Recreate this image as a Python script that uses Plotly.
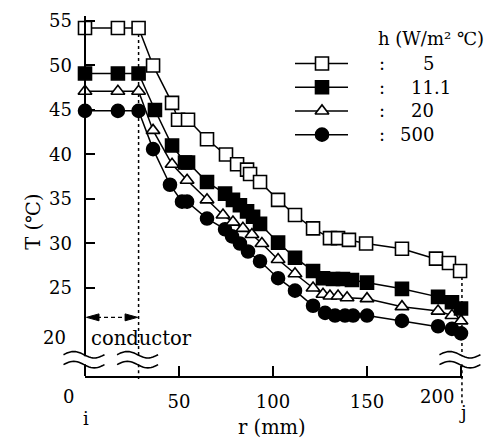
import numpy as np
import plotly.graph_objects as go

# ---------------- data ----------------
h_values = ["5", "11.1", "20", "500"]          # h (W/m2 C)

r_h5 = [0, 17.5, 28.5, 36.2, 46.3, 49.5, 54.8, 64.9, 75.0, 80.9, 86.2, 87.8,
        93.1, 102.7, 111.7, 121.3, 130.3, 134.6, 140.4, 149.5, 168.6, 186.7,
        193.6, 199.5]
T_h5 = [54.2, 54.2, 54.2, 50.0, 45.8, 43.9, 43.9, 41.7, 40.0, 38.9, 38.3, 37.8,
        36.9, 34.9, 33.2, 31.7, 30.6, 30.6, 30.4, 30.0, 29.4, 28.3, 27.8, 26.9]

r_h11 = [0, 17.5, 28.5, 37.2, 46.3, 53.2, 54.8, 64.9, 74.5, 78.7, 82.4, 86.2,
         89.4, 93.1, 102.7, 111.7, 121.3, 126.6, 131.9, 137.2, 142.0, 150.0,
         168.6, 187.8, 195.2, 200.0]
T_h11 = [49.1, 49.1, 49.1, 45.0, 41.0, 39.1, 39.1, 36.9, 35.6, 34.9, 34.3, 33.6,
         33.0, 32.2, 30.1, 28.4, 26.9, 26.1, 26.0, 26.0, 25.9, 25.6, 24.9, 24.0,
         23.4, 22.7]

r_h20 = [0, 17.5, 28.5, 36.2, 46.3, 54.3, 64.9, 73.4, 78.7, 84.0, 88.8, 94.1,
         102.7, 111.7, 121.3, 126.6, 130.3, 134.6, 139.4, 150.0, 168.6, 187.8,
         195.2, 200.0]
T_h20 = [47.1, 47.1, 47.1, 42.7, 38.9, 37.1, 34.9, 33.2, 32.4, 31.7, 31.0, 30.0,
         28.2, 26.6, 25.0, 24.3, 24.1, 24.1, 23.9, 23.8, 22.9, 22.4, 21.9, 21.3]

r_h500 = [0, 17.5, 28.5, 36.2, 45.2, 51.6, 54.3, 64.9, 74.5, 78.2, 82.4, 86.7,
          93.1, 102.7, 111.7, 121.3, 127.7, 133.0, 138.3, 142.6, 150.0, 168.6,
          187.8, 195.2, 200.0]
T_h500 = [44.9, 44.9, 44.9, 40.6, 36.6, 34.7, 34.7, 32.8, 31.6, 30.8, 30.0, 29.1,
          28.0, 26.1, 24.7, 23.0, 22.2, 21.9, 21.9, 21.9, 21.9, 21.3, 20.7, 20.4,
          19.9]

x_ticks = [50, 100, 150, 200]
y_ticks = [25, 30, 35, 40, 45, 50, 55]
r_conductor = 28.5      # conductor radius (i -> conductor edge)
r_j = 200.5             # position j

# ---------------- layout constants ----------------
# The page body has an 8px margin, so the figure is sized/offset to compensate.
OFF = 8
SW, SH = 499, 441                      # screen size
W, H = SW - OFF, SH - OFF              # figure size
PL, PR, PT, PB = 85, 463, 10, 376      # plot box in screen pixels
ML, MR, MT, MB = PL - OFF, SW - PR, PT - OFF, OFF + H - PB
PW, PH = PR - PL, PB - PT
X_RANGE = [0, 201.06]
Y_RANGE = [15.11, 55.78]
FONT = "DejaVu Serif"
FS = 18
FS_TXT = 19.5


def xpx(r):
    return PL + (r - X_RANGE[0]) / (X_RANGE[1] - X_RANGE[0]) * PW


def ypx(t):
    return PT + (Y_RANGE[1] - t) / (Y_RANGE[1] - Y_RANGE[0]) * PH


def xp(p):
    return (p - PL) / PW


def yp(p):
    return (PB - p) / PH


series = [
    dict(name=h_values[0], r=r_h5, T=T_h5, symbol="square", fill="white", size=13),
    dict(name=h_values[1], r=r_h11, T=T_h11, symbol="square", fill="black", size=13),
    dict(name=h_values[2], r=r_h20, T=T_h20, symbol="triangle-up", fill="white", size=12),
    dict(name=h_values[3], r=r_h500, T=T_h500, symbol="circle", fill="black", size=13),
]

fig = go.Figure()

for s in reversed(series):
    fig.add_trace(go.Scatter(
        x=s["r"], y=s["T"], mode="lines+markers", name=s["name"],
        line=dict(color="black", width=1.5),
        marker=dict(symbol=s["symbol"], size=s["size"], color=s["fill"],
                    line=dict(color="black", width=1.6)),
        showlegend=False, cliponaxis=False))

# ---- legend drawn on an overlay axis measured in screen pixels ----
LEG_X0, LEG_XM, LEG_X1 = 295, 322, 348
LEG_Y = [60, 84, 108, 132]
COLON_X, VAL_X = 382, 436
for s, ly in zip(series, LEG_Y):
    fig.add_trace(go.Scatter(x=[LEG_X0, LEG_X1], y=[ly, ly], mode="lines",
                             line=dict(color="black", width=1.5),
                             xaxis="x2", yaxis="y2", showlegend=False,
                             hoverinfo="skip"))
    fig.add_trace(go.Scatter(x=[LEG_XM], y=[ly], mode="markers",
                             marker=dict(symbol=s["symbol"], size=s["size"],
                                         color=s["fill"],
                                         line=dict(color="black", width=1.6)),
                             xaxis="x2", yaxis="y2", showlegend=False,
                             hoverinfo="skip"))

ann = []
txt = dict(family=FONT, size=FS, color="black")
txt2 = dict(family=FONT, size=FS_TXT, color="black")
ann.append(dict(x=431, y=35, xref="x2", yref="y2", text="h (W/m² ℃)",
                showarrow=False, font=txt))
for s, ly in zip(series, LEG_Y):
    ann.append(dict(x=COLON_X, y=ly, xref="x2", yref="y2", text=":",
                    showarrow=False, font=txt))
    frac = 17 if "." in s["name"] else 0
    ann.append(dict(x=VAL_X + frac, y=ly, xref="x2", yref="y2", text=s["name"],
                    xanchor="right", showarrow=False, font=txt))

# axis labels and extra tick labels (paper coords)
extra = [
    dict(x=xp(68), y=yp(ypx(20) + 5), text="20", xanchor="right", yanchor="middle", font=txt),
    dict(x=xp(68), y=yp(397), text="0", xanchor="center", yanchor="middle", font=txt),
    dict(x=xp(437), y=yp(397), text="200", xanchor="center", yanchor="middle", font=txt),
    dict(x=xp(86), y=yp(419), text="i", xanchor="center", yanchor="middle", font=txt),
    dict(x=xp(463), y=yp(413), text="j", xanchor="center", yanchor="middle", font=txt),
    dict(x=xp(272), y=yp(428), text="r (mm)", xanchor="center", yanchor="middle", font=txt2),
    dict(x=xp(34), y=yp(220), text="T (℃)", textangle=-90,
         xanchor="center", yanchor="middle", font=txt2),
    dict(x=xp(89), y=yp(338), text="conductor", xanchor="left", yanchor="middle", font=txt2),
]
for a in extra:
    a.update(xref="paper", yref="paper", showarrow=False)
ann += extra

# ---------------- shapes ----------------
shapes = []
BRK_TOP, BRK_BOT = 356, 364
line_k = dict(color="black", width=2)
dash_k = dict(color="black", width=1.5, dash="3px,3px")


def vseg(xpix, y0, y1, ln, layer="above"):
    return dict(type="line", xref="paper", yref="paper", x0=xp(xpix), x1=xp(xpix),
                y0=yp(y0), y1=yp(y1), line=ln, layer=layer)


# y axis with a break
shapes.append(vseg(PL, PT + 2, BRK_TOP, line_k))
shapes.append(vseg(PL, BRK_BOT, PB, line_k))
# conductor boundary (dotted)
xc = xpx(r_conductor)
shapes.append(vseg(xc, ypx(T_h5[2]), BRK_TOP, dash_k, "below"))
shapes.append(vseg(xc, BRK_BOT, PB + 3, dash_k, "below"))
# position j (dotted)
xj = xpx(r_j)
shapes.append(vseg(xj, ypx(T_h5[-1]), BRK_TOP, dash_k, "below"))
shapes.append(vseg(xj, BRK_BOT, 405, dash_k, "below"))


def wave(cx, yc, half=20.5, A=3.3):
    xs = np.linspace(cx - half, cx + half, 25)
    ys = yc - A * np.sin(2 * np.pi * (xs - (cx - half)) / (2 * half))
    return "M " + " L ".join(f"{xp(a):.5f},{yp(b):.5f}" for a, b in zip(xs, ys))


for cx in (PL - 1, xc - 1, xj - 2):
    for yc in (BRK_TOP - 1.5, BRK_BOT + 0.5):
        shapes.append(dict(type="path", xref="paper", yref="paper",
                           path=wave(cx, yc), line=dict(color="black", width=1.6)))

# conductor extent arrow
ya = ypx(21.7)
shapes.append(dict(type="line", xref="paper", yref="paper", x0=xp(PL + 12),
                   x1=xp(xc - 12), y0=yp(ya), y1=yp(ya),
                   line=dict(color="black", width=1.3, dash="4px,3px")))
for tip, base in ((PL + 1.5, PL + 14), (xc - 1, xc - 13.5)):
    shapes.append(dict(type="path", xref="paper", yref="paper",
                       path=(f"M {xp(tip):.5f},{yp(ya):.5f} L {xp(base):.5f},{yp(ya - 3.5):.5f} "
                             f"L {xp(base):.5f},{yp(ya + 3.5):.5f} Z"),
                       fillcolor="black", line=dict(color="black", width=1)))

fig.update_layout(
    width=W, height=H,
    margin=dict(l=ML, r=MR, t=MT, b=MB, pad=0),
    paper_bgcolor="white", plot_bgcolor="white",
    font=dict(family=FONT, size=FS, color="black"),
    showlegend=False,
    xaxis=dict(range=X_RANGE, showline=True, linecolor="black", linewidth=2,
               ticks="inside", ticklen=10, tickwidth=1.5, tickcolor="black",
               tickvals=x_ticks, ticktext=[str(v) if v != 200 else "" for v in x_ticks],
               ticklabelstandoff=8, ticklabeloverflow="allow",
               showgrid=False, zeroline=False, fixedrange=True),
    yaxis=dict(range=Y_RANGE, showline=False, ticks="inside", ticklen=10,
               tickwidth=1.5, tickcolor="black", tickvals=y_ticks,
               ticklabelstandoff=12, ticklabeloverflow="allow",
               showgrid=False, zeroline=False, fixedrange=True),
    xaxis2=dict(overlaying="x", anchor="y2", range=[PL, PR], visible=False,
                fixedrange=True),
    yaxis2=dict(overlaying="y", anchor="x2", range=[PB, PT], visible=False,
                fixedrange=True),
    annotations=ann,
    shapes=shapes,
)

fig.write_html("out.html")
